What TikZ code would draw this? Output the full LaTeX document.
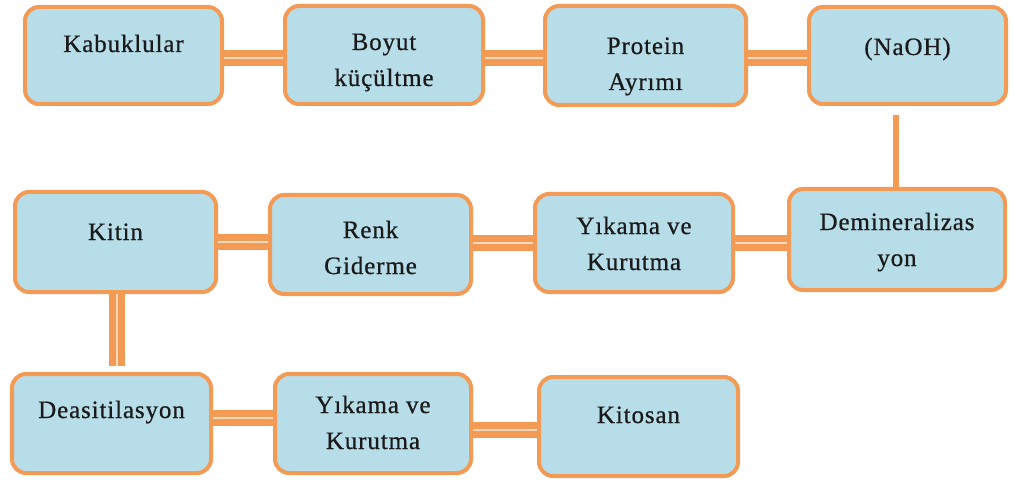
\documentclass[tikz,border=0pt]{standalone}
\usepackage{fontspec}
\newfontfamily\diagfont[LetterSpace=3.5,FakeBold=0.6]{Liberation Serif}
\definecolor{boxfill}{HTML}{B7DDE8}
\definecolor{boxline}{HTML}{F39A55}
\definecolor{conninner}{HTML}{F9D9BD}
\definecolor{txt}{HTML}{1A1A1A}
\begin{document}
\begin{tikzpicture}[x=1pt,y=-1pt,
  box/.style={draw=boxline, fill=boxfill, line width=4pt, rounded corners=14pt, inner sep=0pt},
  lbl/.style={inner sep=0pt, anchor=base, text=txt, font=\diagfont\fontsize{25}{36}\selectfont},
  conn/.style={draw=boxline, line width=7pt, double=conninner, double distance=1.8pt},
  vconn/.style={draw=boxline, line width=6.5pt}]
\useasboundingbox (0,0) rectangle (1014,481);
% row 1
\node[box, minimum width=197pt, minimum height=97pt]  (kab) at (123.5,55.5) {};
\node[box, minimum width=198pt, minimum height=98pt]  (boy) at (384,55) {};
\node[box, minimum width=201pt, minimum height=99pt]  (pro) at (645.5,55.5) {};
\node[box, minimum width=197pt, minimum height=97pt]  (nao) at (907.5,55.5) {};
% row 2
\node[box, minimum width=201pt, minimum height=100pt] (kit) at (115.5,242) {};
\node[box, minimum width=201pt, minimum height=99pt]  (ren) at (370.5,244.5) {};
\node[box, minimum width=198pt, minimum height=98pt]  (yk1) at (634,243) {};
\node[box, minimum width=216pt, minimum height=101pt] (dem) at (897,239.5) {};
% row 3
\node[box, minimum width=199pt, minimum height=99pt]  (dea) at (111.5,423.5) {};
\node[box, minimum width=196pt, minimum height=99pt]  (yk2) at (373,423.5) {};
\node[box, minimum width=199pt, minimum height=99pt]  (kto) at (638.5,426.5) {};
% texts
\newcommand\boxtext[1]{\parbox[t]{200pt}{\centering #1}}
\node[lbl] (kabt) at ([yshift=-47pt]kab.north) {\boxtext{Kabuklular}};
\node[lbl] (boyt) at ([yshift=-46pt]boy.north) {\boxtext{Boyut\\küçültme}};
\node[lbl] (prot) at ([yshift=-50pt]pro.north) {\boxtext{Protein\\Ayrımı}};
\node[lbl] (naot) at ([yshift=-50pt]nao.north) {\boxtext{(NaOH)}};
\node[lbl] (kitt) at ([yshift=-50pt]kit.north) {\boxtext{Kitin}};
\node[lbl] (rent) at ([yshift=-45pt]ren.north) {\boxtext{Renk\\Giderme}};
\node[lbl] (yk1t) at ([yshift=-42pt]yk1.north) {\boxtext{Yıkama ve\\Kurutma}};
\node[lbl] (demt) at ([yshift=-43pt]dem.north) {\boxtext{Demineralizas\\yon}};
\node[lbl] (deat) at ([yshift=-46pt]dea.north) {\boxtext{Deasitilasyon}};
\node[lbl] (yk2t) at ([yshift=-41pt]yk2.north) {\boxtext{Yıkama ve\\Kurutma}};
\node[lbl] (ktot) at ([yshift=-48pt]kto.north) {\boxtext{Kitosan}};
% connectors
\draw[conn] (kab.east |- 0,58) -- (boy.west |- 0,58);
\draw[conn] (boy.east |- 0,58) -- (pro.west |- 0,58);
\draw[conn] (pro.east |- 0,58) -- (nao.west |- 0,58);
\coordinate (naotop) at (896,115);
\draw[vconn] (naotop) -- (dem.north -| naotop);
\draw[conn] (kit.east |- 0,242) -- (ren.west |- 0,242);
\draw[conn] (ren.east |- 0,243) -- (yk1.west |- 0,243);
\draw[conn] (yk1.east |- 0,243) -- (dem.west |- 0,243);
\coordinate (kitbot) at (117,366);
\draw[conn] (kit.south -| kitbot) -- (kitbot);
\draw[conn] (dea.east |- 0,418) -- (yk2.west |- 0,418);
\draw[conn] (yk2.east |- 0,430) -- (kto.west |- 0,430);
\end{tikzpicture}
\end{document}
